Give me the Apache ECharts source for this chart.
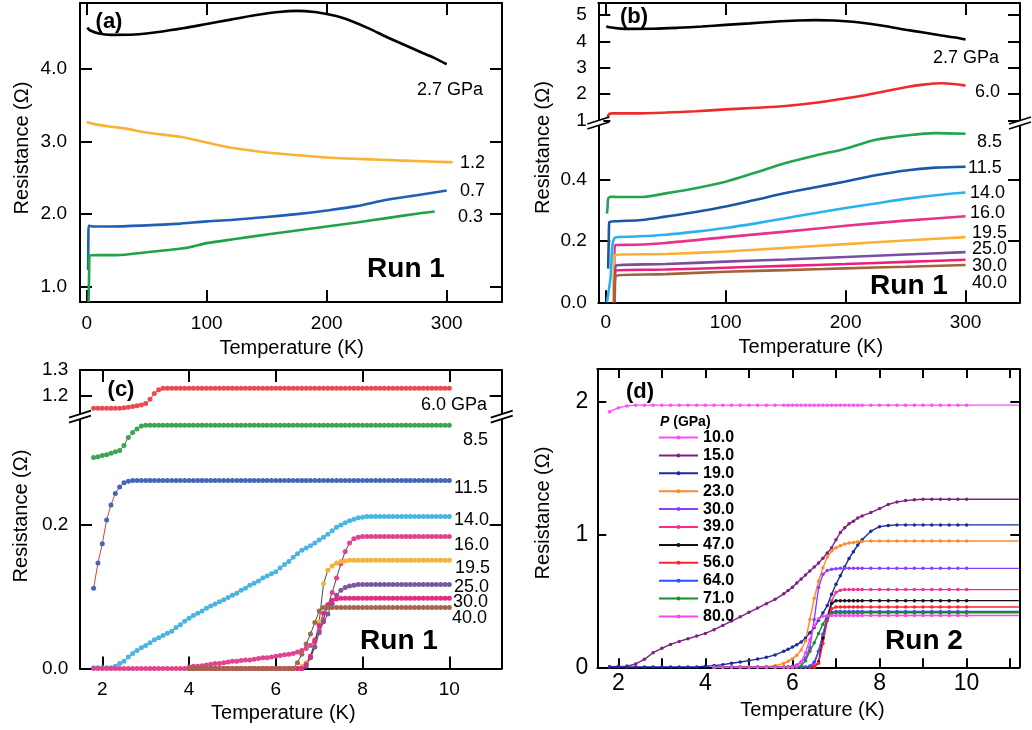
<!DOCTYPE html>
<html><head><meta charset="utf-8">
<script src="https://cdn.jsdelivr.net/npm/echarts@6/dist/echarts.min.js"></script>
<style>html,body{margin:0;padding:0;background:#fff}#c{width:1032px;height:730px}</style>
</head><body><div id="c"></div>
<script>
// ================= DATA =================
// Panel (a)/(b): wide temperature range, [T (K), R (Ohm)]
const p27 = [[0.5,4.57],[3,4.53],[10,4.49],[20,4.47],[40,4.475],[60,4.51],[80,4.56],[100,4.62],[120,4.68],[140,4.74],[160,4.785],[175,4.80],[190,4.785],[200,4.757],[210,4.72],[220,4.665],[235,4.56],[250,4.44],[265,4.33],[280,4.22],[290,4.15],[300,4.065]];
const a12 = [[0,3.27],[2,3.26],[5,3.245],[10,3.23],[20,3.205],[30,3.185],[50,3.124],[80,3.06],[100,2.986],[122,2.91],[150,2.85],[177,2.81],[204,2.776],[231,2.758],[259,2.74],[300,2.717],[305,2.715]];
const a07 = [[1.2,1.23],[1.3,1.5],[1.4,1.7],[1.6,1.84],[5,1.83],[20,1.83],[50,1.845],[75,1.865],[100,1.90],[125,1.925],[150,1.96],[175,2.0],[200,2.05],[225,2.11],[250,2.197],[275,2.26],[300,2.325]];
const a03 = [[1.5,0.79],[1.8,1.0],[2.0,1.2],[2.5,1.43],[10,1.435],[25,1.435],[50,1.475],[70,1.51],[85,1.54],[100,1.60],[125,1.66],[150,1.72],[175,1.775],[200,1.83],[225,1.885],[250,1.945],[275,2.005],[290,2.035]];

const b60 = [[1.5,1.1],[3,1.25],[6,1.27],[25,1.27],[50,1.3],[75,1.35],[100,1.42],[125,1.48],[150,1.55],[175,1.67],[200,1.84],[215,1.95],[230,2.08],[250,2.26],[265,2.36],[280,2.41],[290,2.38],[300,2.32]];
const b85 = [[1,0.29],[1.5,0.31],[2,0.338],[4,0.345],[10,0.344],[30,0.344],[50,0.356],[75,0.373],[100,0.394],[125,0.424],[150,0.455],[175,0.48],[200,0.502],[225,0.531],[250,0.545],[275,0.553],[300,0.551]];
const b115 = [[2,0.11],[2.5,0.2],[3,0.262],[10,0.265],[30,0.269],[50,0.28],[75,0.295],[100,0.313],[125,0.335],[150,0.357],[175,0.376],[200,0.395],[225,0.415],[250,0.431],[275,0.44],[300,0.443]];
const b140 = [[1,0.0],[4,0.08],[8,0.212],[25,0.215],[50,0.221],[75,0.231],[100,0.243],[125,0.258],[150,0.275],[175,0.292],[200,0.308],[225,0.323],[250,0.338],[275,0.35],[300,0.359]];
const b160 = [[7,0.0],[8,0.187],[25,0.188],[50,0.194],[100,0.213],[150,0.231],[200,0.25],[250,0.267],[300,0.281]];
const b195 = [[6.5,0.0],[7.5,0.155],[50,0.158],[100,0.166],[150,0.178],[200,0.19],[250,0.202],[300,0.213]];
const b250 = [[7.5,0.0],[8.5,0.12],[50,0.125],[100,0.133],[150,0.14],[200,0.148],[250,0.156],[300,0.164]];
const b300 = [[7.5,0.0],[8.5,0.104],[50,0.107],[100,0.113],[150,0.119],[200,0.125],[250,0.132],[300,0.139]];
const b400 = [[7.5,0.0],[8.5,0.087],[50,0.092],[100,0.1],[150,0.105],[200,0.111],[250,0.116],[300,0.122]];

// Panel (c): temperature grid (K) and resistances
const TC = [1.8,1.9,2.0,2.1,2.2,2.3,2.4,2.5,2.6,2.7,2.8,2.9,3.0,3.1,3.2,3.3,3.4,3.5,3.6,3.7,3.8,3.9,4.0,4.1,4.2,4.3,4.4,4.5,4.6,4.7,4.8,4.9,5.0,5.1,5.2,5.3,5.4,5.5,5.6,5.7,5.8,5.9,6.0,6.1,6.2,6.3,6.4,6.5,6.6,6.7,6.8,6.9,7.0,7.1,7.2,7.3,7.4,7.5,7.6,7.7,7.8,7.9,8.0,8.1,8.2,8.3,8.4,8.5,8.6,8.7,8.8,8.9,9.0,9.1,9.2,9.3,9.4,9.5,9.6,9.7,9.8,9.9,10.0];
const c60 = [1.151,1.151,1.151,1.151,1.151,1.151,1.151,1.153,1.155,1.158,
 1.161,1.164,1.169,1.186,1.208,1.223,1.229,1.229,1.229,1.229,
 1.229,1.229,1.229,1.229,1.229,1.229,1.229,1.229,1.229,1.229,
 1.229,1.229,1.229,1.229,1.229,1.229,1.229,1.229,1.229,1.229,
 1.229,1.229,1.229,1.229,1.229,1.229,1.229,1.229,1.229,1.229,
 1.229,1.229,1.229,1.229,1.229,1.229,1.229,1.229,1.229,1.229,
 1.229,1.229,1.229,1.229,1.229,1.229,1.229,1.229,1.229,1.229,
 1.229,1.229,1.229,1.229,1.229,1.229,1.229,1.229,1.229,1.229,
 1.229,1.229,1.229];
const c85 = [0.294,0.295,0.297,0.298,0.300,0.302,0.304,0.311,0.322,0.329,
 0.334,0.338,0.339,0.339,0.339,0.339,0.339,0.339,0.339,0.339,
 0.339,0.339,0.339,0.339,0.339,0.339,0.339,0.339,0.339,0.339,
 0.339,0.339,0.339,0.339,0.339,0.339,0.339,0.339,0.339,0.339,
 0.339,0.339,0.339,0.339,0.339,0.339,0.339,0.339,0.339,0.339,
 0.339,0.339,0.339,0.339,0.339,0.339,0.339,0.339,0.339,0.339,
 0.339,0.339,0.339,0.339,0.339,0.339,0.339,0.339,0.339,0.339,
 0.339,0.339,0.339,0.339,0.339,0.339,0.339,0.339,0.339,0.339,
 0.339,0.339,0.339];
const c115 = [0.112,0.147,0.174,0.207,0.228,0.244,0.253,0.259,0.261,0.262,
 0.262,0.262,0.262,0.262,0.262,0.262,0.262,0.262,0.262,0.262,
 0.262,0.262,0.262,0.262,0.262,0.262,0.262,0.262,0.262,0.262,
 0.262,0.262,0.262,0.262,0.262,0.262,0.262,0.262,0.262,0.262,
 0.262,0.262,0.262,0.262,0.262,0.262,0.262,0.262,0.262,0.262,
 0.262,0.262,0.262,0.262,0.262,0.262,0.262,0.262,0.262,0.262,
 0.262,0.262,0.262,0.262,0.262,0.262,0.262,0.262,0.262,0.262,
 0.262,0.262,0.262,0.262,0.262,0.262,0.262,0.262,0.262,0.262,
 0.262,0.262,0.262];
const c140 = [0.001,0.001,0.001,0.001,0.001,0.003,0.007,0.010,0.016,0.021,
 0.025,0.029,0.032,0.036,0.040,0.043,0.046,0.049,0.052,0.057,
 0.061,0.066,0.070,0.074,0.077,0.080,0.084,0.087,0.090,0.093,
 0.096,0.099,0.102,0.105,0.109,0.112,0.116,0.119,0.122,0.126,
 0.129,0.132,0.135,0.140,0.145,0.149,0.155,0.160,0.165,0.168,
 0.171,0.175,0.179,0.183,0.187,0.192,0.197,0.200,0.203,0.206,
 0.208,0.210,0.211,0.212,0.212,0.212,0.212,0.212,0.212,0.212,
 0.212,0.212,0.212,0.212,0.212,0.212,0.212,0.212,0.212,0.212,
 0.212,0.212,0.212];
const c160 = [0,0,0,0,0,0,0,0,0,0,
 0,0,0,0,0,0,0,0,0,0,
 0,0,0.002,0.003,0.003,0.004,0.005,0.006,0.007,0.007,
 0.008,0.009,0.010,0.010,0.011,0.012,0.012,0.013,0.014,0.015,
 0.015,0.016,0.017,0.018,0.019,0.020,0.021,0.023,0.025,0.028,
 0.032,0.040,0.053,0.069,0.088,0.106,0.126,0.146,0.163,0.175,
 0.181,0.183,0.184,0.184,0.184,0.184,0.184,0.184,0.184,0.184,
 0.184,0.184,0.184,0.184,0.184,0.184,0.184,0.184,0.184,0.184,
 0.184,0.184,0.184];
// the following four start at 4.0 K
const C_LATE_START = 4.0;
const c195 = [0,0,0,0,0,0,0,0,0,0,
 0,0,0,0,0,0,0,0,0,0,
 0,0,0,0,0,0,0.003,0.008,0.017,0.030,
 0.065,0.118,0.137,0.143,0.147,0.149,0.150,0.151,0.151,0.151,
 0.151,0.151,0.151,0.151,0.151,0.151,0.151,0.151,0.151,0.151,
 0.151,0.151,0.151,0.151,0.151,0.151,0.151,0.151,0.151,0.151,
 0.151];
const c250 = [0,0,0,0,0,0,0,0,0,0,
 0,0,0,0,0,0,0,0,0,0,
 0,0,0,0,0,0,0,0.003,0.015,0.030,
 0.050,0.065,0.076,0.090,0.102,0.109,0.113,0.115,0.116,0.117,
 0.117,0.117,0.117,0.117,0.117,0.117,0.117,0.117,0.117,0.117,
 0.117,0.117,0.117,0.117,0.117,0.117,0.117,0.117,0.117,0.117,
 0.117];
const c300 = [0,0,0,0,0,0,0,0,0,0,
 0,0,0,0,0,0,0,0,0,0,
 0,0,0,0,0,0,0,0.006,0.017,0.038,
 0.060,0.077,0.089,0.095,0.097,0.098,0.098,0.098,0.098,0.098,
 0.098,0.098,0.098,0.098,0.098,0.098,0.098,0.098,0.098,0.098,
 0.098,0.098,0.098,0.098,0.098,0.098,0.098,0.098,0.098,0.098,
 0.098];
const c400 = [0,0,0,0,0,0,0,0,0,0,
 0,0,0,0,0,0,0,0,0,0,
 0,0,0,0,0,0.008,0.020,0.034,0.048,0.064,
 0.080,0.085,0.085,0.085,0.085,0.085,0.085,0.085,0.085,0.085,
 0.085,0.085,0.085,0.085,0.085,0.085,0.085,0.085,0.085,0.085,
 0.085,0.085,0.085,0.085,0.085,0.085,0.085,0.085,0.085,0.085,
 0.085];

// Panel (d): temperature grid (K) and resistances
const TD = [1.8,2.0,2.2,2.4,2.6,2.8,3.0,3.2,3.4,3.6,3.8,4.0,4.2,4.4,4.6,4.8,5.0,5.2,5.4,5.6,5.8,5.9,6.0,6.1,6.2,6.3,6.4,6.5,6.6,6.7,6.8,6.9,7.0,7.1,7.2,7.3,7.4,7.5,7.6,7.8,8.0,8.2,8.4,8.6,8.8,9.0,9.2,9.4,9.6,9.8,10.0];
const D_LINE_END_T = 11.2;   // lines continue (without markers) to here
const d10 = [1.925,1.953,1.968,1.974,1.974,1.974,1.974,1.974,1.974,1.974,
 1.974,1.974,1.974,1.974,1.974,1.974,1.974,1.974,1.974,1.974,
 1.974,1.974,1.974,1.974,1.974,1.974,1.974,1.974,1.974,1.974,
 1.974,1.974,1.974,1.974,1.974,1.974,1.974,1.974,1.974,1.974,
 1.974,1.974,1.974,1.974,1.974,1.974,1.974,1.974,1.974,1.974,
 1.974];
const d15 = [0.005,0.007,0.009,0.025,0.06,0.11,0.143,0.172,0.195,0.215,
 0.235,0.255,0.283,0.315,0.348,0.38,0.414,0.446,0.479,0.512,
 0.553,0.578,0.602,0.635,0.665,0.695,0.725,0.755,0.785,0.822,
 0.86,0.9,0.96,1.015,1.05,1.08,1.1,1.125,1.14,1.165,
 1.195,1.226,1.245,1.255,1.262,1.265,1.265,1.265,1.265,1.265,
 1.265];
const d19 = [0.002,0.002,0.002,0.002,0.002,0.002,0.002,0.002,0.002,0.002,
 0.002,0.008,0.013,0.02,0.03,0.04,0.05,0.062,0.075,0.093,
 0.12,0.135,0.152,0.17,0.19,0.22,0.26,0.3,0.355,0.41,
 0.465,0.55,0.625,0.69,0.755,0.82,0.87,0.92,0.96,1.025,
 1.059,1.068,1.072,1.072,1.072,1.072,1.072,1.072,1.072,1.072,
 1.072];
// the following start at 4.2 K
const D_LATE_START = 4.2;
const d23 = [0,0,0,0,0,0,0.004,0.012,
 0.03,0.045,0.065,0.09,0.13,0.2,0.36,0.52,0.65,0.75,
 0.83,0.875,0.9,0.915,0.928,0.935,0.94,0.945,0.948,0.951,
 0.951,0.951,0.951,0.951,0.951,0.951,0.951,0.951,0.951,0.951,
 0.951];
const d30 = [0,0,0,0,0,0,0,0,
 0,0.003,0.008,0.018,0.04,0.07,0.15,0.36,0.6,0.7,
 0.728,0.738,0.742,0.745,0.745,0.745,0.745,0.745,0.745,0.745,
 0.745,0.745,0.745,0.745,0.745,0.745,0.745,0.745,0.745,0.745,
 0.745];
const d39 = [0,0,0,0,0,0,0,0,
 0,0,0,0,0,0,0,0.02,0.12,0.24,
 0.38,0.5,0.565,0.58,0.585,0.585,0.585,0.585,0.585,0.585,
 0.585,0.585,0.585,0.585,0.585,0.585,0.585,0.585,0.585,0.585,
 0.585];
const d47 = [0,0,0,0,0,0,0,0,
 0,0,0,0,0,0,0,0,0.04,0.22,
 0.37,0.48,0.502,0.502,0.502,0.502,0.502,0.502,0.502,0.502,
 0.502,0.502,0.502,0.502,0.502,0.502,0.502,0.502,0.502,0.502,
 0.502];
const d56 = [0,0,0,0,0,0,0,0,
 0,0,0,0,0,0,0,0,0.03,0.18,
 0.35,0.44,0.454,0.454,0.454,0.454,0.454,0.454,0.454,0.454,
 0.454,0.454,0.454,0.454,0.454,0.454,0.454,0.454,0.454,0.454,
 0.454];
const d64 = [0,0,0,0,0,0,0,0,
 0,0,0,0,0,0,0.01,0.04,0.12,0.25,
 0.37,0.415,0.42,0.42,0.42,0.42,0.42,0.42,0.42,0.42,
 0.42,0.42,0.42,0.42,0.42,0.42,0.42,0.42,0.42,0.42,
 0.42];
const d71 = [0,0,0,0,0,0,0,0,
 0,0,0,0,0.01,0.05,0.12,0.185,0.255,0.325,
 0.385,0.405,0.411,0.411,0.411,0.411,0.411,0.411,0.411,0.411,
 0.411,0.411,0.411,0.411,0.411,0.411,0.411,0.411,0.411,0.411,
 0.411];
const d80 = [0,0,0,0,0,0,0,0,
 0,0,0,0.01,0.04,0.11,0.21,0.31,0.365,0.385,
 0.39,0.39,0.39,0.39,0.39,0.39,0.39,0.39,0.39,0.39,
 0.39,0.39,0.39,0.39,0.39,0.39,0.39,0.39,0.39,0.39,
 0.39];

// tick labels
const TICKS_WIDE_T = [0,100,200,300];
const TICKS_LOW_T = [2,4,6,8,10];
const TICKS_D_T_MINOR = [2,3,4,5,6,7,8,9,10,11];
const TICKS_A_R = [1,2,3,4];
const TICKS_B_UP_R = [1,2,3,4,5];
const TICKS_B_LO_R = [0,0.2,0.4];
const TICKS_C_UP_R = [1.2,1.3];
const TICKS_C_LO_R = [0,0.2];
const TICKS_D_R = [0,1,2];

// curve labels
const A_LABELS = ['2.7 GPa','1.2','0.7','0.3'];
const B_LABELS = ['2.7 GPa','6.0','8.5','11.5','14.0','16.0','19.5','25.0','30.0','40.0'];
const C_LABELS = ['6.0 GPa','8.5','11.5','14.0','16.0','19.5','25.0','30.0','40.0'];
const D_NAMES = ['10.0','15.0','19.0','23.0','30.0','39.0','47.0','56.0','64.0','71.0','80.0'];

// ================= BUILD =================
const FONT = "'Liberation Sans', Arial, Helvetica, sans-serif";
const LW = 2;
const grids = [], xAxes = [], yAxes = [], series = [], graphics = [];

function axis(gi, pos, r, show, ticks, labels, st) {
  return {
    type:'value', gridIndex:gi, position:pos, min:r[0], max:r[1],
    axisLine:{show:show, onZero:false, lineStyle:{color:'#000', width:LW}},
    axisTick:{show:show && !!ticks, inside:true, length:st.tick, lineStyle:{color:'#000', width:LW}, customValues: ticks || []},
    axisLabel:{show:!!labels, customValues: labels || [], fontSize:st.fs || 12, fontFamily:FONT, color:'#000', margin:st.margin || 8, formatter: st.fmt || (v => String(v)), showMinLabel:true, showMaxLabel:true},
    splitLine:{show:false}
  };
}
function makeGrid(rect, xr, yr, o) {
  const gi = grids.length;
  grids.push({left:rect[0], top:rect[1], width:rect[2], height:rect[3]});
  const xi = xAxes.length;
  xAxes.push(axis(gi, 'bottom', xr, o.bottom, o.xTicks, o.bottom ? o.xLabels : null, {tick:o.tick, fs:o.xfs, margin:o.xm}));
  xAxes.push(axis(gi, 'top', xr, o.top, o.xTicks, null, {tick:o.tick}));
  const yi = yAxes.length;
  yAxes.push(axis(gi, 'left', yr, true, o.yTicks, o.yTicks, {tick:o.tick, fs:o.yfs, margin:o.ym, fmt:o.yfmt}));
  yAxes.push(axis(gi, 'right', yr, true, o.yTicks, null, {tick:o.tick}));
  return {xi, yi};
}
const fix1 = v => v.toFixed(1);
const GA = makeGrid([80,3,422,299], [-5.6,346.1], [0.789,4.909],
  {bottom:true, top:true, xTicks:TICKS_WIDE_T, xLabels:TICKS_WIDE_T, yTicks:TICKS_A_R, tick:12, xfs:19, yfs:19, xm:12, ym:13, yfmt:fix1});
const GBu = makeGrid([598.3,3,421.7,120], [-6.2,345.4], [0.905,5.45],
  {bottom:false, top:true, xTicks:TICKS_WIDE_T, yTicks:TICKS_B_UP_R, tick:12, yfs:19, ym:11.5});
const GBl = makeGrid([598.3,123,421.7,179.3], [-6.2,345.4], [0,0.586],
  {bottom:true, top:false, xTicks:TICKS_WIDE_T, xLabels:TICKS_WIDE_T, yTicks:TICKS_B_LO_R, tick:12, xfs:19, yfs:19, xm:11, ym:11.5, yfmt:fix1});
const GCu = makeGrid([80,370,421.7,46.7], [1.486,11.208], [1.118,1.3],
  {bottom:false, top:true, xTicks:TICKS_LOW_T, yTicks:TICKS_C_UP_R, tick:12, yfs:19, ym:11.7, yfmt:fix1});
const GCl = makeGrid([80,416.7,421.7,251.8], [1.486,11.208], [0,0.351],
  {bottom:true, top:false, xTicks:TICKS_LOW_T, xLabels:TICKS_LOW_T, yTicks:TICKS_C_LO_R, tick:12, xfs:19, yfs:19, xm:12, ym:11.7, yfmt:fix1});
const GD = makeGrid([597.3,369,422,298.3], [1.518,11.21], [0,2.246],
  {bottom:true, top:true, xTicks:TICKS_D_T_MINOR, xLabels:TICKS_LOW_T, yTicks:TICKS_D_R, tick:9, xfs:23, yfs:23, xm:5, ym:9});

function addLine(name, data, ax, st) {
  series.push(Object.assign({type:'line', name, data, xAxisIndex:ax.xi, yAxisIndex:ax.yi, animation:false, smooth:false}, st));
}
const wide = c => ({symbol:'none', showSymbol:false, smooth:0.3, lineStyle:{color:c, width:2.6}, itemStyle:{color:c}});
function onGrid(grid, vals, start) {
  const i0 = start == null ? 0 : grid.indexOf(start);
  return vals.map((v, i) => [grid[i0 + i], v]);
}

// (a)
const A_COL = ['#000000','#f9b233','#1f5fb5','#1fa24a'];
[p27, a12, a07, a03].forEach((d, i) => addLine('a ' + A_LABELS[i], d, GA, wide(A_COL[i])));
// (b)
const B_COL = ['#000000','#ee2b2b','#22a550','#1b57a7','#2ab2ec','#e8318a','#f8b133','#7a4e9f','#ee1f78','#a4613a'];
addLine('b ' + B_LABELS[0], p27, GBu, wide(B_COL[0]));
addLine('b ' + B_LABELS[1], b60, GBu, wide(B_COL[1]));
[b85, b115, b140, b160, b195, b250, b300, b400].forEach((d, i) => addLine('b ' + B_LABELS[i + 2], d, GBl, wide(B_COL[i + 2])));
// (c)
const C_MK = ['#ea4a50','#3aa655','#4466b8','#49b5e4','#e2428e','#f4b43a','#7c55a3','#e52b7e','#a6664a'];
const C_LN = ['#e42b2b','#555555','#d62a2a','#333333','#333333','#333333','#333333','#333333','#333333'];
const cStyle = i => ({symbol:'circle', symbolSize:5, showSymbol:true, lineStyle:{color:C_LN[i], width:0.9}, itemStyle:{color:C_MK[i], borderWidth:0}});
addLine('c ' + C_LABELS[0], onGrid(TC, c60), GCu, cStyle(0));
[c85, c115, c140, c160].forEach((d, i) => addLine('c ' + C_LABELS[i + 1], onGrid(TC, d), GCl, cStyle(i + 1)));
[c195, c250, c300, c400].forEach((d, i) => addLine('c ' + C_LABELS[i + 5], onGrid(TC, d, C_LATE_START), GCl, cStyle(i + 5)));
// (d)
const D_COL = ['#ff4cff','#7e237e','#1a2aa0','#ff8a2e','#8c3cff','#ff2a86','#111111','#ff2230','#2a52ff','#1e8a2a','#ff44f0'];
const D_DATA = [[d10,null],[d15,null],[d19,null],[d23,D_LATE_START],[d30,D_LATE_START],[d39,D_LATE_START],[d47,D_LATE_START],[d56,D_LATE_START],[d64,D_LATE_START],[d71,D_LATE_START],[d80,D_LATE_START]];
D_DATA.forEach((e, i) => {
  const pts = onGrid(TD, e[0], e[1]);
  const last = pts[pts.length - 1];
  const data = pts.concat([{value:[D_LINE_END_T, last[1]], symbol:'none'}]);
  addLine(D_NAMES[i], data, GD, {symbol:'circle', symbolSize:3.5, showSymbol:true, lineStyle:{color:D_COL[i], width:1.4}, itemStyle:{color:D_COL[i]}});
});

// ---- text / decorations ----
function txt(x, y, text, o) {
  o = o || {};
  graphics.push({type:'text', x, y, z:50, rotation:o.rot || 0,
    style:{text, fontSize:o.fs || 18, fontWeight:o.fw || 'normal', fontFamily:FONT, fill:'#000',
      align:o.align || 'center', verticalAlign:'middle', rich:o.rich}});
}
function brk(cx, cy) {
  const s = 7 / 22;
  graphics.push({type:'polygon', z:100, shape:{points:[[cx-5, cy-2.5+5*s],[cx+5, cy-2.5-5*s],[cx+5, cy+2.5-5*s],[cx-5, cy+2.5+5*s]]}, style:{fill:'#fff', stroke:null}});
  graphics.push({type:'line', z:101, shape:{x1:cx-11, y1:cy-2.5+11*s, x2:cx+11, y2:cy-2.5-11*s}, style:{stroke:'#000', lineWidth:1.8}});
  graphics.push({type:'line', z:101, shape:{x1:cx-11, y1:cy+2.5+11*s, x2:cx+11, y2:cy+2.5-11*s}, style:{stroke:'#000', lineWidth:1.8}});
}
const ROT = Math.PI / 2;
// axis titles
[[291.7,348],[810.8,347],[283.3,713],[812.5,710]].forEach(p => txt(p[0], p[1], 'Temperature (K)', {fs:20}));
[[22,148],[543,147.5],[21,516],[543,513]].forEach(p => txt(p[0], p[1], 'Resistance (Ω)', {fs:20, rot:ROT}));
// panel tags
txt(109,22,'(a)',{fs:22,fw:'bold'}); txt(634,17,'(b)',{fs:22,fw:'bold'});
txt(121,390,'(c)',{fs:22,fw:'bold'}); txt(640,392,'(d)',{fs:22,fw:'bold'});
txt(406,269,'Run 1',{fs:28,fw:'bold'}); txt(909,286,'Run 1',{fs:28,fw:'bold'});
txt(399,641,'Run 1',{fs:28,fw:'bold'}); txt(924,641,'Run 2',{fs:28,fw:'bold'});
// curve labels
const A_POS = [[417,90],[460,163],[460,191],[458,217]];
A_LABELS.forEach((t, i) => txt(A_POS[i][0], A_POS[i][1], t, {align:'left'}));
const B_POS = [[933,58],[975,92],[977,142],[968,168],[970,193],[970,213],[972,233],[972,249],[972,266],[972,283]];
B_LABELS.forEach((t, i) => txt(B_POS[i][0], B_POS[i][1], t, {align:'left'}));
const C_POS = [[421,405],[463,440],[454,488],[454,520],[454,545],[455,568],[454,587],[453,602],[452,618]];
C_LABELS.forEach((t, i) => txt(C_POS[i][0], C_POS[i][1], t, {align:'left'}));
// legend title
txt(660, 422, '{i|P} (GPa)', {fs:14, fw:'bold', align:'left', rich:{i:{fontStyle:'italic', fontWeight:'bold', fontSize:14, fontFamily:FONT}}});
// axis breaks
brk(598.3,123); brk(1020,123); brk(80,416.7); brk(501.7,416.7);

const chart = echarts.init(document.getElementById('c'), null, {renderer:'canvas'});
chart.setOption({
  animation:false,
  backgroundColor:'#fff',
  textStyle:{fontFamily:FONT},
  grid:grids, xAxis:xAxes, yAxis:yAxes, series,
  legend:{show:true, orient:'vertical', left:658, top:429.5, padding:0, itemWidth:39, itemHeight:5, itemGap:1.9,
    selectedMode:false, data:D_NAMES, textStyle:{fontSize:16, fontWeight:'bold', fontFamily:FONT, color:'#000', lineHeight:16}},
  graphic:graphics
});
</script>
</body></html>
